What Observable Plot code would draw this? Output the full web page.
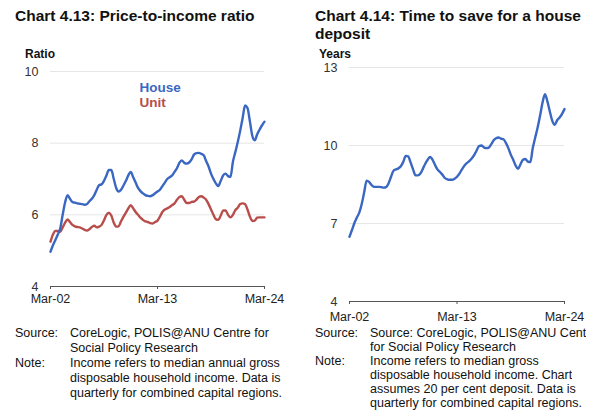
<!DOCTYPE html>
<html>
<head>
<meta charset="utf-8">
<script src="https://cdn.jsdelivr.net/npm/d3@7"></script>
<script src="https://cdn.jsdelivr.net/npm/@observablehq/plot@0.6"></script>
<style>
  html, body { margin: 0; padding: 0; background: #fff; }
  body { width: 602px; height: 420px; position: relative; overflow: hidden; font-family: "Liberation Sans", Arial, Helvetica, sans-serif; color: #111; }
  .abs { position: absolute; }
  .title { font-weight: bold; font-size: 15.5px; line-height: 18px; color: #111; white-space: nowrap; }
  .ylab { font-weight: bold; font-size: 12px; color: #111; }
  .note { font-size: 12.5px; color: #111; }
  .note .row { display: flex; white-space: nowrap; }
  .note .k { width: 55px; flex: none; }
  .note .v { overflow: hidden; }
</style>
</head>
<body>
<div id="left" class="abs" style="left:0;top:60px;"></div>
<div id="right" class="abs" style="left:300px;top:60px;"></div>

<div class="abs title" style="left:15px;top:7px;">Chart 4.13: Price-to-income ratio</div>
<div class="abs title" style="left:315px;top:7px;">Chart 4.14: Time to save for a house<br>deposit</div>
<div class="abs ylab" style="left:25px;top:47px;">Ratio</div>
<div class="abs ylab" style="left:319px;top:47px;">Years</div>

<div class="abs note" style="left:15px;top:326px;width:285px;line-height:15px;">
  <div class="row"><div class="k">Source:</div><div class="v">CoreLogic, POLIS@ANU Centre for</div></div>
  <div class="row"><div class="k"></div><div class="v">Social Policy Research</div></div>
  <div class="row"><div class="k">Note:</div><div class="v">Income refers to median annual gross</div></div>
  <div class="row"><div class="k"></div><div class="v">disposable household income. Data is</div></div>
  <div class="row"><div class="k"></div><div class="v">quarterly for combined capital regions.</div></div>
</div>
<div class="abs note" style="left:315px;top:326px;width:271px;overflow:hidden;line-height:14px;">
  <div class="row"><div class="k">Source:</div><div class="v">Source: CoreLogic, POLIS@ANU Centre</div></div>
  <div class="row"><div class="k"></div><div class="v">for Social Policy Research</div></div>
  <div class="row"><div class="k">Note:</div><div class="v">Income refers to median gross</div></div>
  <div class="row"><div class="k"></div><div class="v">disposable household income. Chart</div></div>
  <div class="row"><div class="k"></div><div class="v">assumes 20 per cent deposit. Data is</div></div>
  <div class="row"><div class="k"></div><div class="v">quarterly for combined capital regions.</div></div>
</div>

<script>
// Quarterly data, Mar-02 to Mar-24 (89 quarters)
const house = [4.97,5.15,5.3,5.45,5.62,6.0,6.35,6.55,6.45,6.36,6.34,6.32,6.31,6.3,6.28,6.3,6.38,6.45,6.55,6.7,
  6.83,6.85,6.95,7.1,7.25,7.25,7.0,6.75,6.65,6.7,6.82,6.95,7.1,7.2,7.05,6.9,6.75,6.66,6.6,6.55,
  6.53,6.52,6.55,6.6,6.65,6.7,6.8,6.9,7.0,7.05,7.1,7.2,7.3,7.45,7.52,7.45,7.43,7.46,7.55,7.68,
  7.72,7.73,7.7,7.66,7.5,7.35,7.15,7.0,6.88,6.8,6.95,7.1,7.15,7.08,7.06,7.48,7.75,8.03,8.35,8.7,
  9.05,8.98,8.6,8.2,8.08,8.25,8.38,8.5,8.6];
const unit = [5.25,5.45,5.55,5.55,5.53,5.65,5.78,5.87,5.8,5.72,5.68,5.66,5.65,5.62,5.58,5.56,5.6,5.66,5.7,5.65,
  5.67,5.72,5.85,6.0,6.06,5.98,5.78,5.67,5.68,5.82,5.95,6.06,6.18,6.27,6.18,6.08,6.0,5.92,5.86,5.82,
  5.8,5.77,5.76,5.8,5.84,5.95,6.08,6.15,6.18,6.22,6.27,6.32,6.42,6.5,6.52,6.42,6.33,6.33,6.36,6.37,
  6.42,6.5,6.52,6.48,6.42,6.3,6.15,6.0,5.88,5.86,5.98,6.12,6.12,6.0,5.93,6.0,6.13,6.2,6.3,6.32,
  6.3,6.15,5.95,5.83,5.84,5.92,5.93,5.93,5.93];
const years = [6.49,6.75,7.02,7.23,7.42,7.75,8.2,8.65,8.6,8.48,8.41,8.41,8.41,8.4,8.38,8.4,8.55,8.8,9.03,9.08,
  9.12,9.2,9.37,9.6,9.58,9.35,9.08,8.85,8.85,8.92,9.1,9.3,9.45,9.56,9.45,9.25,9.08,8.98,8.88,8.75,
  8.7,8.68,8.68,8.72,8.8,8.92,9.08,9.22,9.32,9.4,9.5,9.63,9.8,9.98,10.0,9.93,9.9,9.92,10.05,10.2,
  10.28,10.31,10.26,10.24,10.1,9.9,9.65,9.45,9.23,9.1,9.28,9.45,9.48,9.38,9.36,9.9,10.3,10.69,11.15,11.65,
  11.97,11.7,11.3,10.95,10.8,10.97,11.08,11.22,11.4];
const xTickLabels = ["Mar-02", "Mar-13", "Mar-24"];
const leftYTicks = [4, 6, 8, 10];
const rightYTicks = [4, 7, 10, 13];
const seriesNames = ["House", "Unit"];

const quarters = house.map((_, i) => new Date(Date.UTC(2002, 2 + 3 * i, 1)));
const fmt = d3.utcFormat("%b-%y");
const xTicks = quarters.filter(d => xTickLabels.includes(fmt(d)));
const BLUE = "#3a67c2", RED = "#b84e4c";

function base(opts) {
  return {
    width: opts.width, height: opts.height,
    marginLeft: opts.ml, marginRight: opts.mr, marginTop: opts.mt, marginBottom: opts.mb,
    style: { fontFamily: "'Liberation Sans', Arial, sans-serif", fontSize: "12px", color: "#333", background: "transparent", overflow: "visible" },
    x: { type: "utc", domain: [quarters[0], quarters[quarters.length - 1]] },
    y: { domain: opts.ydomain }
  };
}

function axes(yticks, pad) {
  return [
    Plot.ruleY(yticks.slice(1), { stroke: "#e6e6e6", strokeWidth: 1 }),
    Plot.ruleY(yticks.slice(0, 1), { stroke: "#555", strokeWidth: 1.2 }),
    Plot.axisY({ ticks: yticks, tickFormat: d => String(d), tickSize: 0, tickPadding: 12, label: null, fontSize: 12.5, fill: "#333" }),
    Plot.axisX({ ticks: xTicks, tickFormat: fmt, tickSize: 3, tickPadding: pad, label: null, stroke: "#555", fontSize: 12.5, fill: "#222" })
  ];
}

const left = Plot.plot({
  ...base({ width: 300, height: 250, ml: 50, mr: 36, mt: 11, mb: 24, ydomain: [4, 10] }),
  marks: [
    ...axes(leftYTicks, 5),
    Plot.line(unit, { x: (d, i) => quarters[i], y: d => d, stroke: RED, strokeWidth: 2.4, curve: "monotone-x" }),
    Plot.line(house, { x: (d, i) => quarters[i], y: d => d, stroke: BLUE, strokeWidth: 2.4, curve: "monotone-x" }),
    Plot.text(seriesNames.slice(0, 1), { frameAnchor: "top-left", text: d => d, dx: 89, dy: 16, fill: BLUE, fontWeight: "bold", fontSize: 13.5, textAnchor: "start", lineAnchor: "middle" }),
    Plot.text(seriesNames.slice(1), { frameAnchor: "top-left", text: d => d, dx: 89, dy: 31, fill: RED, fontWeight: "bold", fontSize: 13.5, textAnchor: "start", lineAnchor: "middle" })
  ]
});
document.getElementById("left").appendChild(left);

const right = Plot.plot({
  ...base({ width: 302, height: 262, ml: 49, mr: 38, mt: 7, mb: 21, ydomain: [4, 13] }),
  marks: [
    ...axes(rightYTicks, 8),
    Plot.line(years, { x: (d, i) => quarters[i], y: d => d, stroke: BLUE, strokeWidth: 2.4, curve: "monotone-x" })
  ]
});
document.getElementById("right").appendChild(right);
</script>
</body>
</html>
